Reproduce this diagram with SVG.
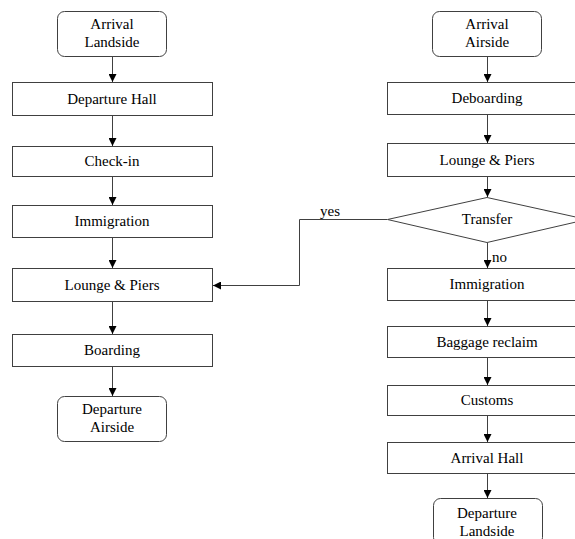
<svg xmlns="http://www.w3.org/2000/svg" width="575" height="539" viewBox="0 0 575 539">
  <style>
    .box { fill: #fff; stroke: #404040; stroke-width: 1; }
    .lbl { font-family: "Liberation Serif", "Times New Roman", serif; font-size: 15px; fill: #000; text-anchor: middle; }
    .tag { font-family: "Liberation Serif", "Times New Roman", serif; font-size: 15px; fill: #000; }
    .edge { fill: none; stroke: #404040; stroke-width: 1; }
  </style>
  <defs>
    <marker id="arr" viewBox="0 0 10 10" refX="10" refY="5" markerWidth="8" markerHeight="8" markerUnits="userSpaceOnUse" orient="auto">
      <path d="M0,0 L10,5 L0,10 Z" fill="#000"/>
    </marker>
  </defs>
  <rect width="575" height="539" fill="#fff"/>

  <!-- departure flow (left column) -->
  <g id="arrival-landside">
    <rect class="box" x="57.5" y="11.5" width="109" height="45" rx="7"/>
    <text class="lbl" x="112" y="29">Arrival</text>
    <text class="lbl" x="112" y="47">Landside</text>
  </g>
  <g id="departure-hall">
    <rect class="box" x="12.5" y="82.5" width="200" height="33"/>
    <text class="lbl" x="112" y="104">Departure Hall</text>
  </g>
  <g id="check-in">
    <rect class="box" x="12.5" y="146.5" width="200" height="30"/>
    <text class="lbl" x="112" y="166">Check-in</text>
  </g>
  <g id="immigration-left">
    <rect class="box" x="12.5" y="205.5" width="200" height="32"/>
    <text class="lbl" x="112" y="226">Immigration</text>
  </g>
  <g id="lounge-left">
    <rect class="box" x="12.5" y="268.5" width="200" height="33"/>
    <text class="lbl" x="112" y="290">Lounge &amp; Piers</text>
  </g>
  <g id="boarding">
    <rect class="box" x="12.5" y="334.5" width="200" height="32"/>
    <text class="lbl" x="112" y="355">Boarding</text>
  </g>
  <g id="departure-airside">
    <rect class="box" x="57.5" y="396.5" width="109" height="45" rx="7"/>
    <text class="lbl" x="112" y="414">Departure</text>
    <text class="lbl" x="112" y="432">Airside</text>
  </g>

  <!-- arrival flow (right column) -->
  <g id="arrival-airside">
    <rect class="box" x="432.5" y="11.5" width="109" height="45" rx="7"/>
    <text class="lbl" x="487" y="29">Arrival</text>
    <text class="lbl" x="487" y="47">Airside</text>
  </g>
  <g id="deboarding">
    <rect class="box" x="387.5" y="82.5" width="200" height="32"/>
    <text class="lbl" x="487" y="103">Deboarding</text>
  </g>
  <g id="lounge-right">
    <rect class="box" x="387.5" y="143.5" width="200" height="33"/>
    <text class="lbl" x="487" y="165">Lounge &amp; Piers</text>
  </g>
  <g id="transfer">
    <polygon class="box" points="487,197.5 587,219.5 487,242.5 387.5,219.5"/>
    <text class="lbl" x="487" y="224">Transfer</text>
  </g>
  <g id="immigration-right">
    <rect class="box" x="387.5" y="268.5" width="200" height="32"/>
    <text class="lbl" x="487" y="289">Immigration</text>
  </g>
  <g id="baggage-reclaim">
    <rect class="box" x="387.5" y="326.5" width="200" height="31"/>
    <text class="lbl" x="487" y="347">Baggage reclaim</text>
  </g>
  <g id="customs">
    <rect class="box" x="387.5" y="385.5" width="200" height="30"/>
    <text class="lbl" x="487" y="405">Customs</text>
  </g>
  <g id="arrival-hall">
    <rect class="box" x="387.5" y="442.5" width="200" height="31"/>
    <text class="lbl" x="487" y="463">Arrival Hall</text>
  </g>
  <g id="departure-landside">
    <rect class="box" x="433.5" y="498.5" width="109" height="46" rx="7"/>
    <text class="lbl" x="487" y="518">Departure</text>
    <text class="lbl" x="487" y="536">Landside</text>
  </g>

  <!-- connectors -->
  <g id="connectors">
    <line class="edge" x1="112.5" y1="57" x2="112.5" y2="82" marker-end="url(#arr)"/>
    <line class="edge" x1="112.5" y1="116" x2="112.5" y2="146" marker-end="url(#arr)"/>
    <line class="edge" x1="112.5" y1="177" x2="112.5" y2="205" marker-end="url(#arr)"/>
    <line class="edge" x1="112.5" y1="238" x2="112.5" y2="268" marker-end="url(#arr)"/>
    <line class="edge" x1="112.5" y1="302" x2="112.5" y2="334" marker-end="url(#arr)"/>
    <line class="edge" x1="112.5" y1="367" x2="112.5" y2="396" marker-end="url(#arr)"/>

    <line class="edge" x1="487.5" y1="57" x2="487.5" y2="82" marker-end="url(#arr)"/>
    <line class="edge" x1="487.5" y1="115" x2="487.5" y2="143" marker-end="url(#arr)"/>
    <line class="edge" x1="487.5" y1="177" x2="487.5" y2="197" marker-end="url(#arr)"/>
    <line class="edge" x1="487.5" y1="243" x2="487.5" y2="268" marker-end="url(#arr)"/>
    <line class="edge" x1="487.5" y1="301" x2="487.5" y2="326" marker-end="url(#arr)"/>
    <line class="edge" x1="487.5" y1="358" x2="487.5" y2="385" marker-end="url(#arr)"/>
    <line class="edge" x1="487.5" y1="416" x2="487.5" y2="442" marker-end="url(#arr)"/>
    <line class="edge" x1="487.5" y1="474" x2="487.5" y2="498" marker-end="url(#arr)"/>

    <polyline class="edge" points="387,219.5 299.5,219.5 299.5,285.5 213,285.5" marker-end="url(#arr)"/>
    <text class="tag" x="320" y="216">yes</text>
    <text class="tag" x="492" y="262">no</text>
  </g>
</svg>
